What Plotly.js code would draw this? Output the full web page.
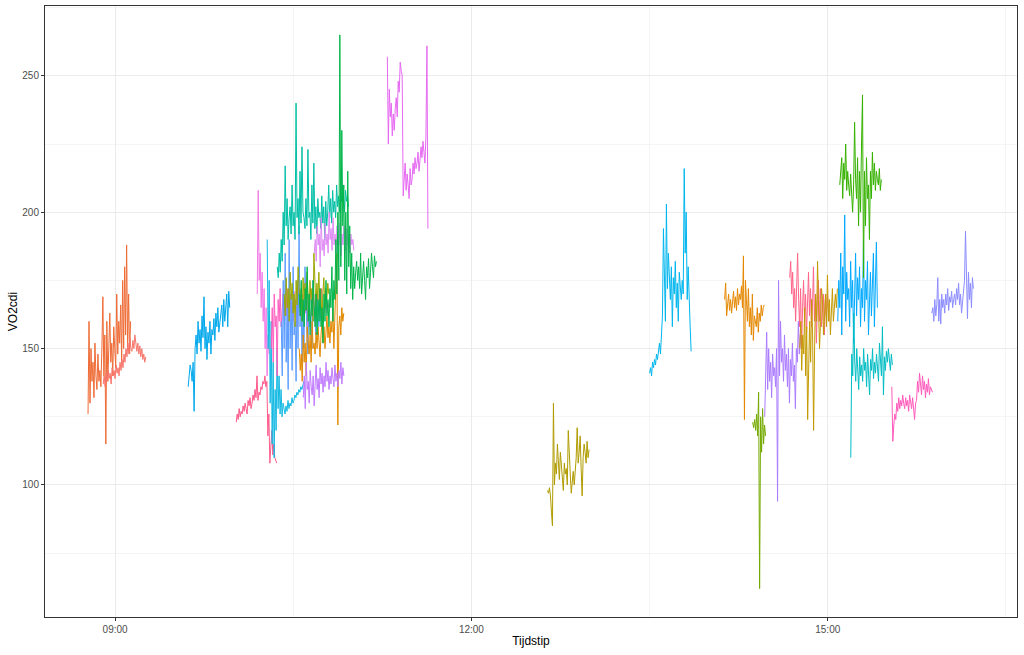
<!DOCTYPE html>
<html>
<head>
<meta charset="utf-8">
<script src="https://cdn.plot.ly/plotly-3.0.1.min.js"></script>
<style>html,body{margin:0;padding:0;background:#fff;}#chart{width:1024px;height:655px;}</style>
</head>
<body>
<div id="chart"></div>
<script>
// ---- data: each recording = start clock time + VO2cdi samples (30 s apart) ----
const sampleStepSec = 30;

const sA1_start = "08:46:20";
const sA1_vo2 = [126,160,130,150,138,145,132,152,140,135,148,138,142,136,150,169,140,155,115,160,138,148,163,145,152,140,158,150,143,170,148,160,152,166,145,175,150,180,155,188,150,170,148,160];
const sA2_start = "08:54:00";
const sA2_vo2 = [137,140,136,141,138,142,139,141,137,143,140,142,139,144,141,143,140,145,142,146,143,148,145,150,147,152,148,154,150,149,153,150,155,151,149,152,148,151,147,150,146,148,145,147];
const sB_start = "09:36:55";
const sB_vo2 = [136,140,144,142,138,145,127,150,155,148,160,152,157,149,162,154,169,150,158,146,156,152,160,148,157,155,161,153,163,158,165,156,160,162,166,158,168,160,164,170,158,171,165];
const sC_start = "10:01:11";
const sC_vo2 = [123,126,124,128,125,127,126,129,127,130,128,126,131,129,132,128,130,133,131,135,132,140,131,134,133,136,135,138,137,140,136,138,118,126,108,114,120,111,115,110,109,108];
const sD_start = "10:11:48";
const sD_vo2 = [170,208,175,185,165,178,160,172,150,165,140,155,148];
const sE_start = "10:16:51";
const sE_vo2 = [190,150,175,130,160,115,145,110,135,120,150,128,140,126,135,125,130,127,126,129,127,131,128,130,129,132,130,131,133,132,134,133,135,134,136,135,137,138];
const sL_start = "10:18:53";
const sL_vo2 = [150,165,145,170,158,162,140,168,160,172,158,165,170,160,168,162,172,158,165,170,163,167,160,171,164,168,158,166,172,162,168,165,170,160,167,163,170,158,165,168,172,162,166,170,160,168,164,170,162,166,168,172,160,165,168,170,163,167,165];
const sF_start = "10:21:55";
const sF_vo2 = [180,176,185,178,190,182,200,188,217,195,205,190,198,
  202,192,210,195,200,190,240,198,205,192,215,196,224,200,198,
  194,205,195,223,198,200,190,210,196,218,194,202,192,205,198,
  200,194,206,196,202,190,204,195,200,210,198,205,196,208,200,
  204,198,210,202,206,200,208,204,210,205,200,208,204,206,202];
const sJ_start = "10:23:56";
const sJ_vo2 = [160,140,175,150,185,145,165,135,190,150,170,142,180,155,160,138,175,150,195,158,170,145,165,150,180,160,155,148,170,158,162,150,175,160,165,155,170,162,158,165,160];
const sI_start = "10:25:27";
const sI_vo2 = [170,162,176,165,172,160,178,168,174,163,170,158,175,166,180,170,165,172,160,176,168,174,164,178,170,162,175,168,172,160,185,170,165,174,168,178,166,172,160,170,176,165,172,168,174,170];
const sG_start = "10:33:02";
const sG_vo2 = [170,162,175,160,168,158,172,164,180,160,170,155,168,162,175,
  165,158,170,155,168,160,172,158,165,152,170,160,175,162,168,
  158,172,165,180,160,175,168,190,170,200,175,265,180,230,195,
  210,175,200,170,215,180,195,172,185,168,180,172,178,182,175,
  180,172,185,170,178,182,175,168,180,176,183,172,178,185,180,176,184,180,182];
const sH_start = "10:33:02";
const sH_vo2 = [150,142,148,138,155,145,152,140,158,150,148,155,145,160,150,152,148,156,150,158,153,147,155,160,152,158,150,156,162,154,158,152,160,156,165,150,160,170,185,122,158,162,155,165,160,163];
const sK_start = "10:35:04";
const sK_vo2 = [132,140,128,145,135,138,130,142,136,133,140,129,137,144,135,139,132,143,137,141,134,140,136,145,138,142,135,140,137,143,139,136,144,138,141,136,142,139,145,137,143,140];
const sM2_start = "10:40:37";
const sM2_vo2 = [185,190,182,195,188,192,180,198,186,190,184,196,188,192,185,200,190,194,186,198,188,192,185,195,190,188,196,184,192,188,195,190,186,194,188,190,185,192,188,190,186];
const sM_start = "11:17:32";
const sM_vo2 = [257,225,245,235,240,228,236,230,238,242,235,248,244,255,252,250,206,212,218,208,214,210,205,216,210,212,218,214,220,216,218,222,215,219,224,220,226,222,218,228,261,194];
const sN_start = "12:38:26";
const sN_vo2 = [98,97,99,96,90,85,130,100,108,104,115,110,102,112,106,103,98,108,104,106,100,120,108,104,97,103,105,100,106,110,121,108,112,118,106,96,110,115,112,108,116,110,113];
const sO_start = "13:30:00";
const sO_vo2 = [141,143,140,145,143,146,144,148,146,150,152,148,155,162,194,170,160,203,172,185,175,168,180,158,176,170,182,165,174,160,178,172,168,175,170,216,185,200,168,180,165,158,149];
const sP_start = "14:07:55";
const sP_vo2 = [168,174,162,166,170,164,168,163,167,171,165,169,164,172,166,170,168,173,165,184,124,175,168,160,172,158,165,155,170,153,162,160,158,165,156,163,160,166,162,165,166];
const sQ_start = "14:22:05";
const sQ_vo2 = [123,121,124,120,126,118,134,62,125,112,128,115,122,118];
const sR_start = "14:28:09";
const sR_vo2 = [125,140,156,135,150,138,145,132,148,140,143,136,150,94,175,140,160,145,150,138,155,142,148,136,150,130,146,140,152,138,144,128,150,145,160,148,155,150];
const sS_start = "14:40:47";
const sS_vo2 = [176,182,170,178,165,172,160,175,185,168,158,172,150,165,175,160,170,155,168,178,162,172,158,165,180,160,170,152,168,175,160,172,158,165,170,155,168,162,170,165,160];
const sT_start = "14:45:51";
const sT_vo2 = [150,160,142,155,148,165,140,158,124,150,160,145,168,155,120,150,170,160,182,165,150,160,172,168,155,162,170,158,177,160,168,155,165,172,160,168,170,165,172];
const sU_start = "15:05:04";
const sU_vo2 = [160,175,165,185,155,180,170,199,160,178,168,172,158,182,165,175,152,170,185,162,176,168,180,158,172,165,190,160,175,168,182,155,170,178,162,175,185,158,170,189,165];
const sV_start = "15:06:04";
const sV_vo2 = [210,215,220,205,218,212,225,208,215,210,206,214,205,200,210,233,212,205,220,195,215,200,225,243,176,215,195,220,205,210,190,215,205,222,210,218,208,215,212,210,216,208,212];
const sW_start = "15:11:38";
const sW_vo2 = [110,148,140,163,145,138,150,142,135,147,140,144,138,150,142,145,136,148,140,133,146,142,150,139,145,141,148,143,138,152,145,140,158,133,147,142,149,145,150,146,142,148,144];
const sX_start = "15:32:22";
const sX_vo2 = [136,116,122,126,124,130,127,132,128,131,129,133,130,128,132,129,131,127,133,130,128,132,126,124,130,131,138,134,141,136,133,140,135,138,132,137,134,139,133,136,135,134];
const sY_start = "15:52:35";
const sY_vo2 = [163,165,160,168,162,166,176,160,168,159,170,165,168,163,170,166,172,164,169,167,171,165,168,170,166,172,168,174,166,170,163,168,172,175,193,170,161,178,168,174,165,176,172];

const xTickLabels = ["09:00", "12:00", "15:00"];
const yTickValues = [100, 150, 200, 250];

// ---- series list (data refs + colour) ----
const seriesList = [
  [sA1_start, sA1_vo2, "#EF6B35"],
  [sA2_start, sA2_vo2, "#F7766B"],
  [sB_start, sB_vo2, "#00A8EC"],
  [sC_start, sC_vo2, "#FF5A8C"],
  [sD_start, sD_vo2, "#F27CE6"],
  [sE_start, sE_vo2, "#13B9E3"],
  [sL_start, sL_vo2, "#FF5FC0"],
  [sJ_start, sJ_vo2, "#5A9CFF"],
  [sI_start, sI_vo2, "#9CA700"],
  [sF_start, sF_vo2, "#00BFA6"],
  [sH_start, sH_vo2, "#E38900"],
  [sK_start, sK_vo2, "#C07CFF"],
  [sM2_start, sM2_vo2, "#E08BF5"],
  [sG_start, sG_vo2, "#00B54A"],
  [sM_start, sM_vo2, "#E669F2"],
  [sN_start, sN_vo2, "#B09C00"],
  [sO_start, sO_vo2, "#00B6EE"],
  [sP_start, sP_vo2, "#E58700"],
  [sR_start, sR_vo2, "#AC7CFF"],
  [sQ_start, sQ_vo2, "#74AA00"],
  [sS_start, sS_vo2, "#FF6689"],
  [sT_start, sT_vo2, "#C49A00"],
  [sU_start, sU_vo2, "#00A9FF"],
  [sV_start, sV_vo2, "#35B200"],
  [sW_start, sW_vo2, "#00BDC4"],
  [sX_start, sX_vo2, "#FF5BBB"],
  [sY_start, sY_vo2, "#8D8DFF"]
];

const day = "2020-01-01";
function clockToMs(c) {
  const p = c.split(":").map(Number);
  return Date.UTC(2020, 0, 1, p[0], p[1], p[2] || 0);
}
function msToStr(ms) {
  return new Date(ms).toISOString().replace("T", " ").slice(0, 19);
}

const traces = seriesList.map(([start, vals, col]) => {
  const t0 = clockToMs(start);
  return {
    type: "scatter",
    mode: "lines",
    x: vals.map((_, i) => msToStr(t0 + i * sampleStepSec * 1000)),
    y: vals,
    line: {color: col, width: 1},
    hoverinfo: "skip",
    showlegend: false
  };
});

const layout = {
  width: 1024,
  height: 655,
  margin: {l: 45, r: 7, t: 6, b: 38},
  paper_bgcolor: "#ffffff",
  plot_bgcolor: "#ffffff",
  font: {family: "Liberation Sans, Arial, sans-serif", color: "#4D4D4D"},
  showlegend: false,
  xaxis: {
    type: "date",
    range: [day + " 08:24:36", day + " 16:35:36"],
    tickvals: xTickLabels.map(t => day + " " + t + ":00"),
    ticktext: xTickLabels,
    tickfont: {size: 10, color: "#4D4D4D"},
    ticks: "outside", ticklen: 3, tickcolor: "#333333", tickwidth: 1,
    showgrid: true, gridcolor: "#EBEBEB", gridwidth: 1,
    minor: {tickvals: [day + " 10:30:00", day + " 13:30:00", day + " 16:30:00"], showgrid: true, gridcolor: "#F1F1F1", gridwidth: 0.7, ticks: ""},
    showline: true, mirror: true, linecolor: "#333333", linewidth: 1,
    zeroline: false,
    title: {text: "Tijdstip", font: {size: 12, color: "#000000"}, standoff: 2}
  },
  yaxis: {
    range: [51.6, 275.6],
    tickvals: yTickValues,
    tickfont: {size: 10, color: "#4D4D4D"},
    ticks: "outside", ticklen: 3, tickcolor: "#333333", tickwidth: 1,
    showgrid: true, gridcolor: "#EBEBEB", gridwidth: 1,
    minor: {tickvals: [75, 125, 175, 225, 275], showgrid: true, gridcolor: "#F1F1F1", gridwidth: 0.7, ticks: ""},
    showline: true, mirror: true, linecolor: "#333333", linewidth: 1,
    zeroline: false,
    title: {text: "VO2cdi", font: {size: 12, color: "#000000"}, standoff: 2}
  }
};

Plotly.newPlot("chart", traces, layout, {displayModeBar: false, staticPlot: true});
</script>
</body>
</html>
